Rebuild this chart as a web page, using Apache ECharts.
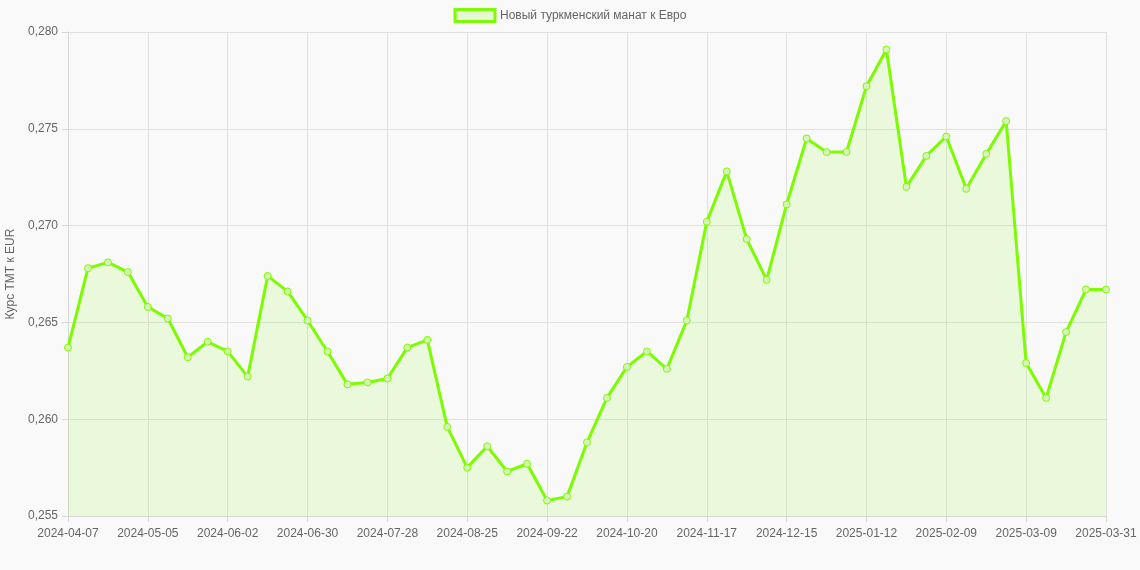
<!DOCTYPE html>
<html>
<head>
<meta charset="utf-8">
<script src="https://cdn.jsdelivr.net/npm/echarts@6/dist/echarts.min.js"></script>
<style>
  html, body { margin: 0; padding: 0; background: #f9f9f9; }
  #chart { width: 1140px; height: 570px; }
</style>
</head>
<body>
<div id="chart"></div>
<script>
// даты (по неделям)
var dates = [
    '2024-04-07', '2024-04-14', '2024-04-21', '2024-04-28', '2024-05-05', '2024-05-12', '2024-05-19', '2024-05-26',
    '2024-06-02', '2024-06-09', '2024-06-16', '2024-06-23', '2024-06-30', '2024-07-07', '2024-07-14', '2024-07-21',
    '2024-07-28', '2024-08-04', '2024-08-11', '2024-08-18', '2024-08-25', '2024-09-01', '2024-09-08', '2024-09-15',
    '2024-09-22', '2024-09-29', '2024-10-06', '2024-10-13', '2024-10-20', '2024-10-27', '2024-11-03', '2024-11-10',
    '2024-11-17', '2024-11-24', '2024-12-01', '2024-12-08', '2024-12-15', '2024-12-22', '2024-12-29', '2025-01-05',
    '2025-01-12', '2025-01-19', '2025-01-26', '2025-02-02', '2025-02-09', '2025-02-16', '2025-02-23', '2025-03-02',
    '2025-03-09', '2025-03-16', '2025-03-23', '2025-03-30', '2025-03-31'
];
// курс ТМТ к EUR
var rates = [
    0.2637, 0.2678, 0.2681, 0.2676, 0.2658, 0.2652, 0.2632, 0.2640,
    0.2635, 0.2622, 0.2674, 0.2666, 0.2651, 0.2635, 0.2618, 0.2619,
    0.2621, 0.2637, 0.2641, 0.2596, 0.2575, 0.2586, 0.2573, 0.2577,
    0.2558, 0.2560, 0.2588, 0.2611, 0.2627, 0.2635, 0.2626, 0.2651,
    0.2702, 0.2728, 0.2693, 0.2672, 0.2711, 0.2745, 0.2738, 0.2738,
    0.2772, 0.2791, 0.2720, 0.2736, 0.2746, 0.2719, 0.2737, 0.2754,
    0.2629, 0.2611, 0.2645, 0.2667, 0.2667
];
var seriesName = 'Новый туркменский манат к Евро';

var myChart = echarts.init(document.getElementById('chart'));
var fontFamily = '"Liberation Sans", Arial, Helvetica, sans-serif';
var option = {
    backgroundColor: '#f9f9f9',
    animation: false,
    textStyle: { fontFamily: fontFamily },
    legend: {
        top: 3,
        left: 'center',
        icon: 'rect',
        itemWidth: 40,
        itemHeight: 12,
        itemGap: 10,
        textStyle: { color: '#666', fontSize: 12, fontFamily: fontFamily },
        data: [{
            name: seriesName,
            itemStyle: { color: '#e4f7d0', borderColor: '#7cfc00', borderWidth: 3 }
        }]
    },
    grid: {
        left: 68,
        right: 34,
        top: 32,
        bottom: 54,
        outerBoundsMode: 'none',
        containLabel: false
    },
    xAxis: {
        type: 'category',
        boundaryGap: false,
        data: dates,
        axisLine: { lineStyle: { color: '#d6d6d6' } },
        axisTick: { show: true, interval: 3, length: 6, lineStyle: { color: '#d6d6d6' } },
        splitLine: { show: true, interval: 3, lineStyle: { color: '#e0e0e0' } },
        axisLabel: { interval: 3, color: '#666', fontSize: 12, margin: 12, fontFamily: fontFamily }
    },
    yAxis: {
        type: 'value',
        min: 0.255,
        max: 0.280,
        interval: 0.005,
        name: 'Курс ТМТ к EUR',
        nameLocation: 'middle',
        nameGap: 49,
        nameTextStyle: { color: '#666', fontSize: 12, fontFamily: fontFamily },
        axisLine: { show: true, lineStyle: { color: '#d6d6d6' } },
        axisTick: { show: true, length: 6, lineStyle: { color: '#d6d6d6' } },
        splitLine: { show: true, lineStyle: { color: '#e0e0e0' } },
        axisLabel: {
            color: '#666',
            fontSize: 12,
            margin: 10,
            fontFamily: fontFamily,
            formatter: function (v) {
                return v.toFixed(3).replace('.', ',');
            }
        }
    },
    series: [{
        name: seriesName,
        type: 'line',
        data: rates,
        symbol: 'circle',
        symbolSize: 7,
        showSymbol: true,
        lineStyle: { color: '#7cfc00', width: 3 },
        itemStyle: { color: '#d8f5b8', borderColor: '#7cfc00', borderWidth: 1 },
        areaStyle: { color: 'rgba(124, 252, 0, 0.16)' }
    }]
};
myChart.setOption(option);
</script>
</body>
</html>
